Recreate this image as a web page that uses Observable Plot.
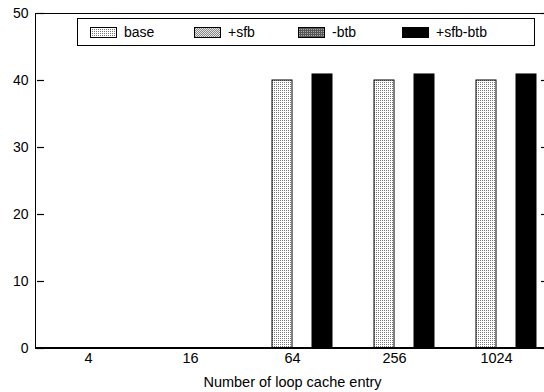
<!DOCTYPE html>
<html>
<head>
<meta charset="utf-8">
<script src="https://cdn.jsdelivr.net/npm/d3@7"></script>
<script src="https://cdn.jsdelivr.net/npm/@observablehq/plot@0.6"></script>
<style>
  html, body { margin: 0; padding: 0; background: white; overflow: hidden; }
  #wrap { position: relative; width: 544px; height: 392px; overflow: hidden; font-family: "Liberation Sans", Arial, sans-serif; }
  #wrap > svg.chart { max-width: none !important; }
  #frame { position: absolute; left: 35px; top: 13px; width: 513px; height: 336px; box-sizing: border-box; border: 1.5px solid black; border-bottom-width: 2px; pointer-events: none; }
  #legend { position: absolute; left: 77px; top: 18px; width: 458px; height: 28px; box-sizing: border-box; border: 1.5px solid black; background: white; display: flex; align-items: center; padding-left: 12px; }
  .item { width: 104px; display: flex; align-items: center; font-size: 14px; }
  .item svg { display: block; margin-right: 7px; }
</style>
</head>
<body>
<svg width="0" height="0" style="position:absolute">
  <defs>
    <pattern id="p-base" patternUnits="userSpaceOnUse" width="2" height="2">
      <rect width="2" height="2" fill="white"/>
      <rect x="0" y="0" width="1" height="1" fill="#777"/>
    </pattern>
    <pattern id="p-sfb" patternUnits="userSpaceOnUse" width="2" height="2">
      <rect width="2" height="2" fill="#e6e6e6"/>
      <rect x="0" y="0" width="1" height="1" fill="#888"/>
      <rect x="1" y="1" width="1" height="1" fill="#888"/>
    </pattern>
    <pattern id="p-btb" patternUnits="userSpaceOnUse" width="2" height="2">
      <rect width="2" height="2" fill="#555"/>
      <rect x="1" y="0" width="1" height="1" fill="#aaa"/>
    </pattern>
  </defs>
</svg>
<div id="wrap"></div>
<script>
// ---- data ----
const categories = ["4", "16", "64", "256", "1024"];
const series = ["base", "+sfb", "-btb", "+sfb-btb"];
const slotOrder = ["+sfb", "base", "-btb", "+sfb-btb"];
const baseValues = [0, 0, 40, 40, 40];
const sfbValues = [0, 0, 0, 0, 0];
const btbValues = [0, 0, 0, 0, 0];
const sfbBtbValues = [0, 0, 40.9, 40.9, 40.9];
const yTicks = [0, 10, 20, 30, 40, 50];
const xLabel = "Number of loop cache entry";

const fills = {"base": "url(#p-base)", "+sfb": "url(#p-sfb)", "-btb": "url(#p-btb)", "+sfb-btb": "black"};
const valuesBySeries = {"base": baseValues, "+sfb": sfbValues, "-btb": btbValues, "+sfb-btb": sfbBtbValues};

const rows = [];
categories.forEach((c, i) => {
  series.forEach(s => rows.push({category: c, series: s, value: valuesBySeries[s][i], pattern: fills[s]}));
});

const chart = Plot.plot({
  className: "chart",
  width: 550,
  height: 392,
  marginTop: 13,
  marginBottom: 44,
  marginLeft: 35,
  marginRight: 2,
  style: {fontFamily: "'Liberation Sans', Arial, sans-serif", fontSize: "14px", color: "black", background: "white", maxWidth: "none"},
  fx: {domain: categories, paddingInner: 0, paddingOuter: 0, label: xLabel},
  x: {domain: slotOrder, paddingInner: 0, paddingOuter: 0.5, axis: null},
  y: {domain: [0, 50], axis: null},
  color: {type: "identity"},
  marks: [
    Plot.barY(rows, {fx: "category", x: "series", y: "value", fill: "pattern", stroke: "black", strokeWidth: 1}),
    Plot.axisFx({anchor: "bottom", tickSize: 0, tickPadding: 4, label: xLabel, labelAnchor: "center", labelOffset: 38, fontSize: "14.5px"}),
    Plot.axisY({ticks: yTicks, tickSize: 7, tickPadding: 2, label: null, strokeWidth: 1.2}),
    Plot.axisY({anchor: "right", ticks: yTicks, tickSize: 7, tickFormat: () => "", label: null, strokeWidth: 1.2})
  ]
});
chart.style.maxWidth = "none";

// gnuplot-style ticks point into the plot frame: mirror each tick about its anchor
d3.select(chart).selectAll("g[aria-label='y-axis tick'] path").each(function() {
  const p = d3.select(this);
  const t = p.attr("transform") || "";
  p.attr("transform", (t + " scale(-1,1)").trim());
});

const wrap = document.getElementById("wrap");
wrap.appendChild(chart);

const frame = document.createElement("div");
frame.id = "frame";
wrap.appendChild(frame);

const legend = document.createElement("div");
legend.id = "legend";
series.forEach(s => {
  const item = document.createElement("div");
  item.className = "item";
  item.innerHTML = `<svg width="27" height="11"><rect x="0.5" y="0.5" width="26" height="10" fill="${fills[s]}" stroke="black" stroke-width="1"/></svg><span>${s}</span>`;
  legend.appendChild(item);
});
wrap.appendChild(legend);
</script>
</body>
</html>
